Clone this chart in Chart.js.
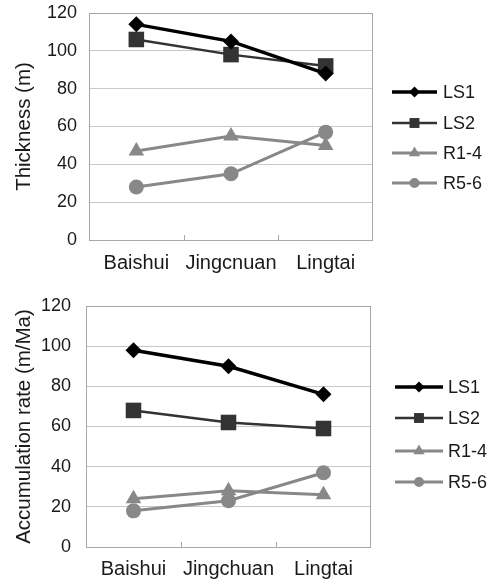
<!DOCTYPE html>
<html>
<head>
<meta charset="utf-8">
<script src="https://cdn.jsdelivr.net/npm/chart.js@4.4.1/dist/chart.umd.min.js"></script>
<style>
body{margin:0;background:#fff;width:493px;height:585px;position:relative;overflow:hidden}
canvas{position:absolute;left:0}
#c1{top:0}#c2{top:290px}
</style>
</head>
<body>
<canvas id="c1" width="493" height="290"></canvas>
<canvas id="c2" width="493" height="295"></canvas>
<script>
const seriesNames=['LS1','LS2','R1-4','R5-6'];
const thickLabels=['Baishui','Jingcnuan','Lingtai'];
const rateLabels=['Baishui','Jingchuan','Lingtai'];
const thickLS1=[114,105,88];
const thickLS2=[106,98,92];
const thickR14=[47,55,50];
const thickR56=[28,35,57];
const rateLS1=[98,90,76];
const rateLS2=[68,62,59];
const rateR14=[24,28,26];
const rateR56=[18,23,37];
const yTicks=[0,20,40,60,80,100,120];

const FONT='"Liberation Sans", Arial, sans-serif';
const styles=[
  {color:'#000',width:3.5,pointStyle:'rectRot',r:8,lr:5.5},
  {color:'#333',width:2.5,pointStyle:'rect',r:11,lr:7},
  {color:'#888',width:3,pointStyle:'triangle',r:9,lr:6.5},
  {color:'#888',width:3,pointStyle:'circle',r:7.5,lr:5}
];

function sets(arrs){
  return arrs.map((d,i)=>({label:seriesNames[i],data:d,borderColor:styles[i].color,backgroundColor:styles[i].color,
    borderWidth:styles[i].width,pointStyle:styles[i].pointStyle,pointRadius:styles[i].r,pointHoverRadius:styles[i].r,
    pointBorderWidth:0,tension:0}));
}

// box round the plot area plus small ticks between categories
const frame={id:'frame',afterDraw(c){
  const {ctx,chartArea:a,scales:{x}}=c;
  ctx.save();ctx.strokeStyle='#a8a8a8';ctx.lineWidth=1;
  ctx.strokeRect(a.left+0.5,a.top+0.5,a.right-a.left-1,a.bottom-a.top);
  const n=x.getLabels().length;
  ctx.beginPath();
  for(let i=0;i<n-1;i++){const px=Math.round((x.getPixelForValue(i)+x.getPixelForValue(i+1))/2)+0.5;ctx.moveTo(px,a.bottom);ctx.lineTo(px,a.bottom-5);}
  ctx.stroke();ctx.restore();
}};

const sideLegend={id:'sideLegend',afterDraw(c,args,o){
  const ctx=c.ctx;ctx.save();
  c.data.datasets.forEach((ds,i)=>{
    const y=o.ys[i],s=styles[i];
    ctx.strokeStyle=s.color;ctx.lineWidth=s.width;
    ctx.beginPath();ctx.moveTo(o.x0,y);ctx.lineTo(o.x1,y);ctx.stroke();
    ctx.fillStyle=s.color;
    Chart.helpers.drawPoint(ctx,{pointStyle:s.pointStyle,radius:s.lr,rotation:0,borderWidth:0},(o.x0+o.x1)/2,y);
    ctx.fillStyle='#1a1a1a';ctx.font='18px '+FONT;ctx.textBaseline='middle';
    ctx.fillText(ds.label,o.tx,y+1);
  });
  ctx.restore();
}};

function make(id,labels,arrs,title,p){
  return new Chart(document.getElementById(id),{
    type:'line',
    data:{labels,datasets:sets(arrs)},
    plugins:[frame,sideLegend],
    options:{
      responsive:false,animation:false,
      layout:{padding:{left:0,right:p.right,top:p.top,bottom:0}},
      plugins:{legend:{display:false},tooltip:{enabled:false},sideLegend:p.legend},
      scales:{
        x:{offset:true,grid:{display:false,drawTicks:false},border:{display:false},
          ticks:{color:'#1a1a1a',font:{family:FONT,size:20},padding:p.xpad,maxRotation:0},
          afterFit(s){s.height=p.xh;s.paddingLeft=0;s.paddingRight=0;}},
        y:{min:0,max:120,afterBuildTicks(s){s.ticks=yTicks.map(v=>({value:v}));},
          grid:{color:'#c8c8c8',drawTicks:false},border:{display:false},
          ticks:{color:'#1a1a1a',font:{family:FONT,size:18},padding:p.ypad},
          title:{display:true,text:title,color:'#1a1a1a',font:{family:FONT,size:20.5},padding:{top:p.tpad,bottom:0}},
          afterFit(s){s.width=p.yw;s.paddingTop=0;s.paddingBottom=0;}}
      }
    }
  });
}

make('c1',thickLabels,[thickLS1,thickLS2,thickR14,thickR56],'Thickness (m)',
  {right:120,top:13,xh:50,yw:89,xpad:11,ypad:12,tpad:12,legend:{x0:392,x1:437,tx:443,ys:[92,123,153,183]}});
make('c2',rateLabels,[rateLS1,rateLS2,rateR14,rateR56],'Accumulation rate (m/Ma)',
  {right:122,top:16,xh:38,yw:86,xpad:10,ypad:15,tpad:12,legend:{x0:395,x1:443,tx:448,ys:[97,128,161,192]}});
</script>
</body>
</html>
